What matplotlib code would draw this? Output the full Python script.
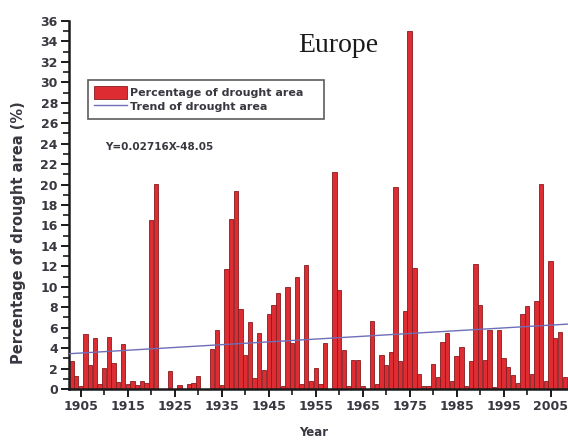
import matplotlib
matplotlib.use("Agg")
import matplotlib.pyplot as plt
from matplotlib.ticker import MultipleLocator, FixedLocator

years = list(range(1903, 2009))
drought_pct = [
    2.7, 1.3, 0.3, 5.4, 2.3, 5.0, 0.5, 2.1, 5.1, 2.5,   # 1903-1912
    0.7, 4.4, 0.5, 0.8, 0.4, 0.8, 0.6, 16.5, 20.1, 0.0,  # 1913-1922
    0.0, 1.8, 0.0, 0.4, 0.0, 0.5, 0.6, 1.3, 0.0, 0.0,    # 1923-1932
    3.9, 5.8, 0.4, 11.7, 16.6, 19.4, 7.8, 3.3, 6.6, 1.1, # 1933-1942
    5.5, 1.9, 7.3, 8.2, 9.4, 0.3, 10.0, 4.5, 11.0, 0.5,  # 1943-1952
    12.1, 0.8, 2.1, 0.5, 4.5, 0.0, 21.2, 9.7, 3.8, 0.3,  # 1953-1962
    2.8, 2.8, 0.3, 0.0, 6.7, 0.5, 3.3, 2.3, 3.6, 19.8,   # 1963-1972
    2.7, 7.6, 35.0, 11.8, 1.5, 0.3, 0.3, 2.4, 1.2, 4.6,  # 1973-1982
    5.5, 0.8, 3.2, 4.1, 0.3, 2.7, 12.2, 8.2, 2.8, 5.8,   # 1983-1992
    0.2, 5.8, 3.0, 2.2, 1.4, 0.6, 7.3, 8.1, 1.5, 8.6,    # 1993-2002
    20.1, 0.8, 12.5, 5.0, 5.6, 1.2,                      # 2003-2008
]
trend_years = [1902.5, 2008.7]
trend_values = [3.45, 6.35]
x_major = [1905, 1915, 1925, 1935, 1945, 1955, 1965, 1975, 1985, 1995, 2005]
y_major = list(range(0, 37, 2))

font = "DejaVu Sans"
txt_col = "#383840"

fig = plt.figure(figsize=(5.68, 4.41), dpi=100)
ax = fig.add_axes([69/568, 1-389/441, 1-69/568, (389-21)/441])

bars = ax.bar(years, drought_pct, width=0.92, color="#de2c33", edgecolor="#8a1c20",
              linewidth=0.6, label="Percentage of drought area", zorder=2)
line, = ax.plot(trend_years, trend_values, color="#6e6eb8", linewidth=1.0,
                label="Trend of drought area", zorder=3)

ax.set_xlim(1902.5, 2008.7)
ax.set_ylim(0, 36)
ax.xaxis.set_major_locator(FixedLocator(x_major))
ax.xaxis.set_minor_locator(FixedLocator([v + 5 for v in x_major[:-1]]))
ax.yaxis.set_major_locator(FixedLocator(y_major))
ax.yaxis.set_minor_locator(MultipleLocator(1))

for s in ["top", "right"]:
    ax.spines[s].set_visible(False)
for s in ["left", "bottom"]:
    ax.spines[s].set_linewidth(1.8)
    ax.spines[s].set_color("#1a1a1a")

ax.tick_params(axis="both", which="major", direction="out", length=6, width=1.4,
               color="#1a1a1a", labelcolor=txt_col, labelsize=9, pad=2)
ax.tick_params(axis="both", which="minor", direction="out", length=4, width=1.2,
               color="#1a1a1a")
for lab in ax.get_xticklabels() + ax.get_yticklabels():
    lab.set_fontfamily(font)
    lab.set_fontweight("bold")

ax.set_xlabel("Year", fontsize=8.5, fontweight="bold", family=font, color=txt_col)
ax.xaxis.set_label_coords(0.49, -(432-389)/368)
ax.xaxis.label.set_va("center")
ax.set_ylabel("Percentage of drought area (%)", fontsize=10.5, fontweight="bold",
              family=font, color=txt_col)
ax.yaxis.set_label_coords(-(69-26)/499, (389-233)/368)

fig.text(338/568, 1-45/441, "Europe", family="Liberation Serif", fontsize=20,
         ha="center", va="center", color="#1a1a1a")

leg = ax.legend(handles=[bars, line],
                labels=["Percentage of drought area", "Trend of drought area"],
                loc="upper left",
                bbox_to_anchor=((88-69)/499, (389-80)/368, (324-88)/499, 0.001),
                mode="expand",
                frameon=True, fancybox=False, edgecolor="#333333",
                prop={"family": font, "size": 8},
                handlelength=3.0, handleheight=1.5, borderpad=0.55,
                labelspacing=0.0, handletextpad=0.2, borderaxespad=0)
leg.get_frame().set_linewidth(1.2)
for t in leg.get_texts():
    t.set_color(txt_col)
    t.set_fontweight("bold")

fig.text(105/568, 1-147/441, "Y=0.02716X-48.05", family=font, fontsize=7.5,
         fontweight="bold", color=txt_col, ha="left", va="center")

fig.savefig("out.png", dpi=100, facecolor="white")
